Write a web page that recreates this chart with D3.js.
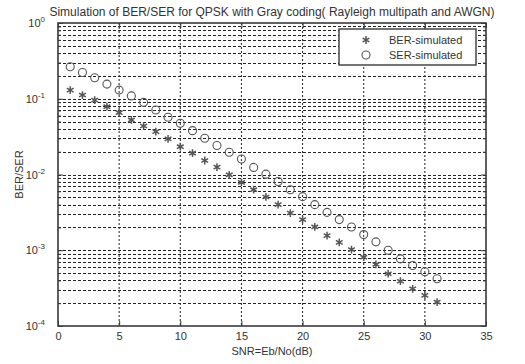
<!DOCTYPE html>
<html>
<head>
<meta charset="utf-8">
<script src="https://cdn.jsdelivr.net/npm/d3@7"></script>
<style>
  body { margin: 0; background: #fff; }
  svg { display: block; font-family: "Liberation Sans", Arial, sans-serif; }
</style>
</head>
<body>
<div id="chart"></div>
<script>
// SNR points (dB)
const snr = [1,2,3,4,5,6,7,8,9,10,11,12,13,14,15,16,17,18,19,20,21,22,23,24,25,26,27,28,29,30,31];
// BER simulated
const ber = [0.130,0.112,0.096,0.0785,0.0655,0.0525,0.0437,0.0368,0.0295,0.0233,0.0191,0.0153,0.0125,0.0099,0.00785,
             0.0063,0.00505,0.0040,0.0031,0.00254,0.00203,0.00156,0.00127,0.00102,0.00081,0.00065,0.00049,0.00039,0.00031,0.000254,0.000207];
// SER simulated
const ser = [0.264,0.222,0.189,0.156,0.130,0.109,0.0896,0.071,0.0569,0.0475,0.0379,0.0301,0.0241,0.0197,0.0160,
             0.0124,0.0101,0.0081,0.0063,0.0051,0.0040,0.00316,0.00254,0.00203,0.00161,0.00129,0.0010,0.00077,0.00063,0.00052,0.00042];

const xTicks = [0,5,10,15,20,25,30,35];
const yDecades = [1e-4,1e-3,1e-2,1e-1,1];
const legendLabels = ["BER-simulated","SER-simulated"];
const titleText = "Simulation of BER/SER for QPSK with Gray coding( Rayleigh multipath and AWGN)";

const W = 525, H = 364;
const margin = {top: 23, right: 39, bottom: 38, left: 58};
const width = W - margin.left - margin.right;
const height = H - margin.top - margin.bottom;

const svg = d3.select("#chart").append("svg")
    .attr("width", W)
    .attr("height", H);

const g = svg.append("g")
    .attr("transform", "translate(" + margin.left + "," + margin.top + ")");

const xScale = d3.scaleLinear().domain([0,35]).range([0,width]);
const yScale = d3.scaleLog().domain([1e-4,1]).range([height,0]);

// minor tick values for log axis
const yMinor = [];
yDecades.slice(0,-1).forEach(d => { for (let k = 2; k <= 9; k++) yMinor.push(d*k); });

// grid
const gridColor = "#222";
g.append("g").attr("class","xGrid")
    .selectAll("line").data(xTicks.slice(1,-1)).join("line")
    .attr("x1", d => xScale(d)).attr("x2", d => xScale(d))
    .attr("y1", 0).attr("y2", height)
    .attr("stroke", gridColor).attr("stroke-width", 1)
    .attr("stroke-dasharray", "2,2");

g.append("g").attr("class","yGrid")
    .selectAll("line").data(yMinor.concat(yDecades.slice(1,-1))).join("line")
    .attr("x1", 0).attr("x2", width)
    .attr("y1", d => Math.round(yScale(d)) + 0.5).attr("y2", d => Math.round(yScale(d)) + 0.5)
    .attr("stroke", gridColor).attr("stroke-width", 1)
    .attr("stroke-dasharray", "3,2");

// axes
const axisColor = "#3a3a3a";
const xAxisG = g.append("g").attr("class","xAxisG")
    .attr("transform","translate(0," + height + ")")
    .call(d3.axisBottom(xScale).tickValues(xTicks).tickSizeInner(-5).tickSizeOuter(0).tickPadding(6).tickFormat(d3.format("d")));
g.append("g").attr("class","xAxisTop")
    .call(d3.axisTop(xScale).tickValues(xTicks).tickSizeInner(-5).tickSizeOuter(0).tickFormat(""));

const yAxisG = g.append("g").attr("class","yAxisG")
    .call(d3.axisLeft(yScale).tickValues(yDecades).tickSizeInner(-5).tickSizeOuter(0).tickPadding(8).tickFormat(""));
g.append("g").attr("class","yMinorL")
    .call(d3.axisLeft(yScale).tickValues(yMinor).tickSizeInner(-3).tickSizeOuter(0).tickFormat(""));
g.append("g").attr("class","yAxisRight")
    .attr("transform","translate(" + width + ",0)")
    .call(d3.axisRight(yScale).tickValues(yDecades).tickSizeInner(-5).tickSizeOuter(0).tickFormat(""));
g.append("g").attr("class","yMinorR")
    .attr("transform","translate(" + width + ",0)")
    .call(d3.axisRight(yScale).tickValues(yMinor).tickSizeInner(-3).tickSizeOuter(0).tickFormat(""));

g.selectAll(".domain").remove();
g.selectAll(".tick line").attr("stroke", axisColor);

xAxisG.selectAll("text").attr("font-size", "11px").attr("fill", "#333")
    .attr("font-family", "'Liberation Sans', Arial, sans-serif");

// y labels as 10 with superscript
yAxisG.selectAll(".tick text")
    .attr("font-family", "'Liberation Sans', Arial, sans-serif")
    .attr("fill", "#333")
    .attr("font-size", "11px")
    .attr("dx", "-0.45em")
    .each(function(d){
        const t = d3.select(this);
        t.text(null);
        t.append("tspan").text("10");
        t.append("tspan").attr("dy", "-0.6em").attr("font-size", "8px").text(Math.round(Math.log10(d)));
    });

// frame
g.append("rect")
    .attr("x", 0).attr("y", 0).attr("width", width).attr("height", height)
    .attr("fill", "none").attr("stroke", axisColor).attr("stroke-width", 1.6);

// data marks
const starColor = "#555";
const circColor = "#555";
const star = d3.symbol().type(d3.symbolAsterisk).size(42);

g.append("g").attr("class","berG")
    .selectAll("path").data(snr.map((s,i) => ({x: s, y: ber[i]}))).join("path")
    .attr("d", star)
    .attr("transform", d => "translate(" + xScale(d.x) + "," + yScale(d.y) + ")")
    .attr("fill", "none").attr("stroke", starColor).attr("stroke-width", 1.5);

g.append("g").attr("class","serG")
    .selectAll("circle").data(snr.map((s,i) => ({x: s, y: ser[i]}))).join("circle")
    .attr("cx", d => xScale(d.x)).attr("cy", d => yScale(d.y))
    .attr("r", 4)
    .attr("fill", "none").attr("stroke", circColor).attr("stroke-width", 1.1);

// legend
const legend = svg.append("g").attr("class","legend")
    .attr("transform","translate(339,29)");
legend.append("rect")
    .attr("width", 137).attr("height", 36)
    .attr("fill", "#fff").attr("stroke", axisColor).attr("stroke-width", 1.4);
legend.append("path")
    .attr("d", star)
    .attr("transform", "translate(27,11)")
    .attr("fill", "none").attr("stroke", starColor).attr("stroke-width", 1.5);
legend.append("circle")
    .attr("cx", 27).attr("cy", 26).attr("r", 4)
    .attr("fill", "none").attr("stroke", circColor).attr("stroke-width", 1.1);
legend.selectAll("text").data(legendLabels).join("text")
    .attr("x", 50).attr("y", (d,i) => 15 + i*15)
    .attr("font-size", "11px").attr("fill", "#333")
    .text(d => d);

// titles
svg.append("text")
    .attr("x", margin.left + width/2).attr("y", 16)
    .attr("text-anchor", "middle").attr("font-size", "12px").attr("fill", "#333")
    .text(titleText);
svg.append("text")
    .attr("x", margin.left + width/2).attr("y", 355)
    .attr("text-anchor", "middle").attr("font-size", "11px").attr("fill", "#333")
    .text("SNR=Eb/No(dB)");
svg.append("text")
    .attr("transform", "translate(23," + (margin.top + height/2) + ") rotate(-90)")
    .attr("text-anchor", "middle").attr("font-size", "11px").attr("fill", "#333")
    .text("BER/SER");
</script>
</body>
</html>
